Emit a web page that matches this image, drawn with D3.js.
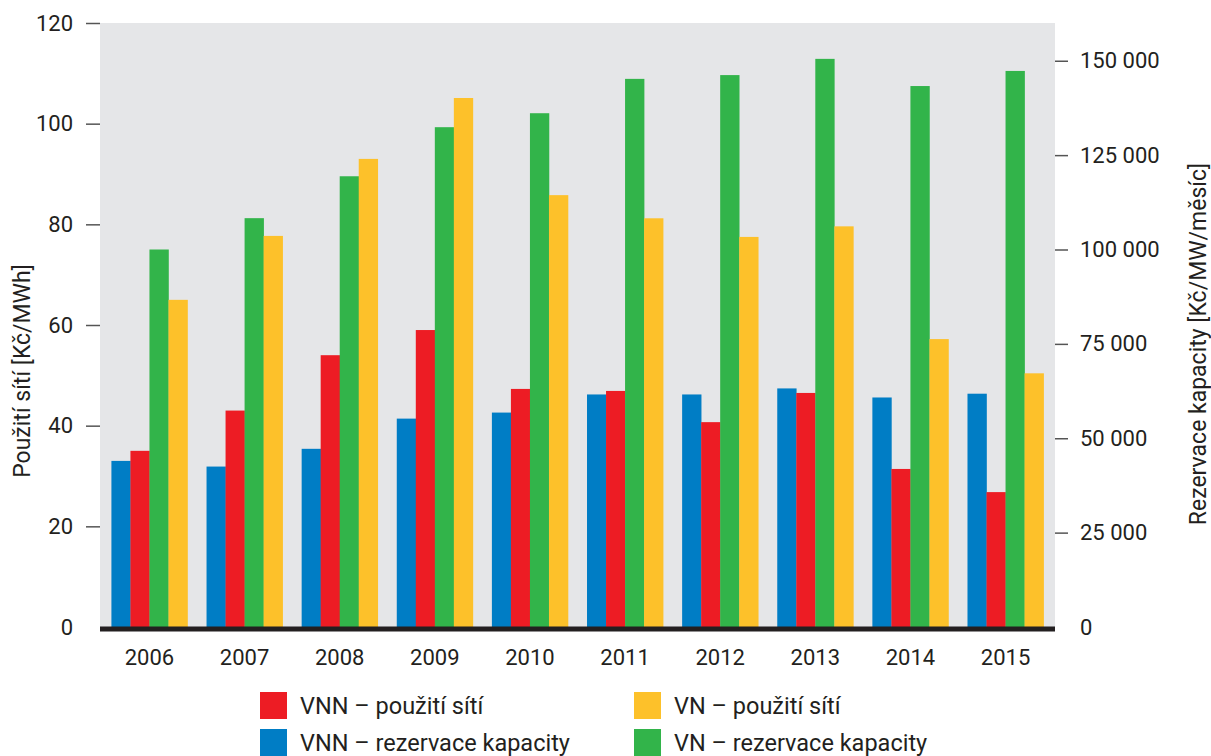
<!DOCTYPE html>
<html lang="cs">
<head>
<meta charset="utf-8">
<title>Ceny za použití sítí a rezervaci kapacity</title>
<script src="https://d3js.org/d3.v7.min.js"></script>
<style>
  body { margin: 0; background: #fff; }
  text { font-family: Roboto, "DejaVu Sans", sans-serif; fill: #231f20; }
</style>
</head>
<body>
<script>
// data
var years = ["2006", "2007", "2008", "2009", "2010", "2011", "2012", "2013", "2014", "2015"];
// right axis, Kč/MW/měsíc
var vnnRezervace = [44000, 42500, 47200, 55200, 56800, 61600, 61600, 63200, 60800, 61800];
var vnRezervace  = [100000, 108300, 119400, 132400, 136100, 145200, 146200, 150500, 143300, 147300];
// left axis, Kč/MWh
var vnnPouziti = [35, 43, 54, 59, 47.3, 46.9, 40.7, 46.5, 31.4, 26.8];
var vnPouziti  = [65, 77.7, 93, 105.1, 85.8, 81.2, 77.5, 79.6, 57.2, 50.4];

var leftTicks = [0, 20, 40, 60, 80, 100, 120];
var rightTicks = [0, 25000, 50000, 75000, 100000, 125000, 150000];

var series = [
  { name: "VNN – rezervace kapacity", values: vnnRezervace, axis: "right", color: "#007dc5" },
  { name: "VNN – použití sítí",       values: vnnPouziti,   axis: "left",  color: "#ed1c24" },
  { name: "VN – rezervace kapacity",  values: vnRezervace,  axis: "right", color: "#32b44a" },
  { name: "VN – použití sítí",        values: vnPouziti,    axis: "left",  color: "#fdc12a" }
];

var width = 1211, height = 756;
var plot = { left: 100, right: 1055, top: 23, bottom: 627 };

var svg = d3.select("body").append("svg")
    .attr("width", width)
    .attr("height", height);

var x = d3.scaleBand().domain(years)
    .range([plot.left, plot.right])
    .paddingInner(0.2)
    .paddingOuter(0.12);

var xs = d3.scaleBand().domain(series.map(function(s) { return s.name; }))
    .range([0, x.bandwidth()]);

var yL = d3.scaleLinear().domain([0, 120]).range([plot.bottom, plot.top]);
var yR = d3.scaleLinear().domain([0, 160000]).range([plot.bottom, plot.top]);

svg.append("rect")
    .attr("x", plot.left).attr("y", plot.top)
    .attr("width", plot.right - plot.left)
    .attr("height", plot.bottom - plot.top)
    .attr("fill", "#e5e6e8");

var groups = svg.append("g").selectAll("g").data(series).enter()
    .append("g")
    .attr("fill", function(s) { return s.color; });

groups.selectAll("rect")
    .data(function(s) {
      return s.values.map(function(v, i) { return { s: s, v: v, year: years[i] }; });
    })
    .enter().append("rect")
    .attr("x", function(d) { return x(d.year) + xs(d.s.name); })
    .attr("width", xs.bandwidth() + 0.3)
    .attr("y", function(d) { return (d.s.axis == "left" ? yL : yR)(d.v); })
    .attr("height", function(d) { return plot.bottom - (d.s.axis == "left" ? yL : yR)(d.v); });

// base line
svg.append("line")
    .attr("x1", plot.left).attr("x2", plot.right)
    .attr("y1", plot.bottom + 2).attr("y2", plot.bottom + 2)
    .attr("stroke", "#231f20")
    .attr("stroke-width", 5);

var fmt = d3.formatLocale({ decimal: ",", thousands: " ", grouping: [3], currency: ["", ""] }).format(",");

var axL = svg.append("g")
    .attr("transform", "translate(" + plot.left + ",0)")
    .call(d3.axisLeft(yL).tickValues(leftTicks).tickSize(14).tickPadding(13));
var axR = svg.append("g")
    .attr("transform", "translate(" + plot.right + ",0)")
    .call(d3.axisRight(yR).tickValues(rightTicks).tickSize(13).tickPadding(12).tickFormat(fmt));

[axL, axR].forEach(function(ax) {
  ax.select(".domain").remove();
  ax.selectAll(".tick line").attr("stroke", "#555").attr("stroke-width", 1.5)
    .filter(function(d) { return d == 0; }).remove();
  ax.selectAll(".tick text").attr("font-size", 22).attr("fill", "#231f20")
    .attr("font-family", "Roboto, sans-serif");
});

var axX = svg.append("g")
    .attr("transform", "translate(0," + plot.bottom + ")")
    .call(d3.axisBottom(x).tickSize(0).tickPadding(22));
axX.select(".domain").remove();
axX.selectAll(".tick text").attr("font-size", 22).attr("fill", "#231f20")
    .attr("font-family", "Roboto, sans-serif");

svg.append("text")
    .attr("transform", "translate(30,371) rotate(-90)")
    .attr("text-anchor", "middle")
    .attr("font-size", 23)
    .text("Použití sítí [Kč/MWh]");

svg.append("text")
    .attr("transform", "translate(1206,344) rotate(-90)")
    .attr("text-anchor", "middle")
    .attr("font-size", 23)
    .text("Rezervace kapacity [Kč/MW/měsíc]");

// legend: two columns, two rows
var legendOrder = [series[1], series[3], series[0], series[2]];
var legend = svg.append("g").selectAll("g").data(legendOrder).enter()
    .append("g")
    .attr("transform", function(d, i) {
      return "translate(" + (i % 2 ? 634 : 260) + "," + (i < 2 ? 692 : 729) + ")";
    });
legend.append("rect")
    .attr("width", 27).attr("height", 27)
    .attr("fill", function(d) { return d.color; });
legend.append("text")
    .attr("x", 40).attr("y", 14)
    .attr("dy", "0.36em")
    .attr("font-size", 23.5)
    .text(function(d) { return d.name; });
</script>
</body>
</html>
